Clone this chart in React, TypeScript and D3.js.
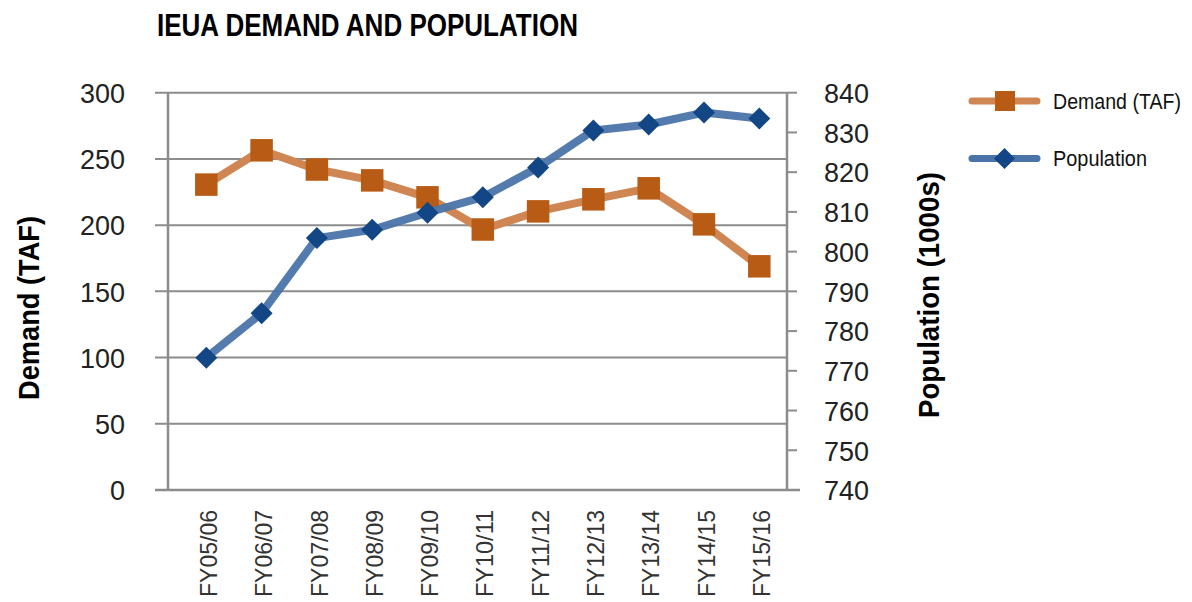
import { useEffect, useRef } from 'react';
import * as d3 from 'd3';

const years = ['FY05/06', 'FY06/07', 'FY07/08', 'FY08/09', 'FY09/10', 'FY10/11', 'FY11/12', 'FY12/13', 'FY13/14', 'FY14/15', 'FY15/16'];
const demand = [230.6, 256.5, 242, 233.8, 221, 196.7, 210.4, 219.5, 227.8, 200.6, 168.9];
const population = [773.3, 784.5, 803.4, 805.5, 809.8, 813.7, 821.2, 830.5, 832.0, 835.0, 833.5];
const leftTicks = [0, 50, 100, 150, 200, 250, 300];
const rightTicks = [740, 750, 760, 770, 780, 790, 800, 810, 820, 830, 840];

const W = 1192;
const H = 602;

export default function App() {
  const svgRef = useRef<SVGSVGElement>(null);

  useEffect(() => {
    if (!svgRef.current) return;
    const svg = d3.select(svgRef.current);
    svg.selectAll('*').remove();

    const font = '"Liberation Sans", Arial, sans-serif';
    const gridColor = '#8c8c8c';
    const textColor = '#222222';

    const plotLeft = 168;
    const plotRight = 787;
    const top = 92.7;
    const bottom = 490;

    const x = d3.scalePoint<string>().domain(years).range([206.3, 759.3]);
    const yL = d3.scaleLinear().domain([0, 300]).range([bottom, top]);
    const yR = d3.scaleLinear().domain([740, 840]).range([bottom, top]);

    // title (source font is a condensed bold face)
    svg.append('text')
      .attr('x', 157)
      .attr('y', 36)
      .attr('font-family', font)
      .attr('font-weight', 'bold')
      .attr('font-size', 31)
      .attr('textLength', 421)
      .attr('lengthAdjust', 'spacingAndGlyphs')
      .attr('fill', '#000')
      .text('IEUA DEMAND AND POPULATION');

    // horizontal gridlines + left ticks
    leftTicks.forEach(t => {
      svg.append('line')
        .attr('x1', 155)
        .attr('x2', t === 0 ? 800 : plotRight)
        .attr('y1', yL(t))
        .attr('y2', yL(t))
        .attr('stroke', gridColor)
        .attr('stroke-width', t === 0 ? 2.5 : 2);
      svg.append('text')
        .attr('x', 125)
        .attr('y', yL(t))
        .attr('dy', '0.36em')
        .attr('text-anchor', 'end')
        .attr('font-family', font)
        .attr('font-size', 28.5)
        .attr('textLength', String(t).length * 15)
        .attr('lengthAdjust', 'spacingAndGlyphs')
        .attr('fill', textColor)
        .text(t);
    });

    // axes lines
    svg.append('line')
      .attr('x1', plotLeft).attr('x2', plotLeft)
      .attr('y1', top).attr('y2', bottom)
      .attr('stroke', gridColor).attr('stroke-width', 2.5);
    svg.append('line')
      .attr('x1', plotRight).attr('x2', plotRight)
      .attr('y1', top).attr('y2', bottom)
      .attr('stroke', gridColor).attr('stroke-width', 2.5);

    // right ticks
    rightTicks.forEach(t => {
      svg.append('line')
        .attr('x1', plotRight)
        .attr('x2', 797)
        .attr('y1', yR(t))
        .attr('y2', yR(t))
        .attr('stroke', gridColor)
        .attr('stroke-width', 2);
      svg.append('text')
        .attr('x', 824)
        .attr('y', yR(t))
        .attr('dy', '0.36em')
        .attr('font-family', font)
        .attr('font-size', 28.5)
        .attr('textLength', 45)
        .attr('lengthAdjust', 'spacingAndGlyphs')
        .attr('fill', textColor)
        .text(t);
    });

    // x labels
    years.forEach(yr => {
      svg.append('text')
        .attr('transform', `translate(${(x(yr) ?? 0) + 2}, 510) rotate(-90)`)
        .attr('text-anchor', 'end')
        .attr('dy', '0.36em')
        .attr('font-family', font)
        .attr('font-size', 24)
        .attr('textLength', 87)
        .attr('lengthAdjust', 'spacingAndGlyphs')
        .attr('fill', '#333')
        .text(yr);
    });

    // axis titles
    svg.append('text')
      .attr('transform', 'translate(29, 308) rotate(-90)')
      .attr('text-anchor', 'middle')
      .attr('dy', '0.36em')
      .attr('font-family', font)
      .attr('font-weight', 'bold')
      .attr('font-size', 29)
      .attr('textLength', 184)
      .attr('lengthAdjust', 'spacingAndGlyphs')
      .attr('fill', '#000')
      .text('Demand (TAF)');
    svg.append('text')
      .attr('transform', 'translate(929, 295) rotate(-90)')
      .attr('text-anchor', 'middle')
      .attr('dy', '0.36em')
      .attr('font-family', font)
      .attr('font-weight', 'bold')
      .attr('font-size', 29)
      .attr('textLength', 246)
      .attr('lengthAdjust', 'spacingAndGlyphs')
      .attr('fill', '#000')
      .text('Population (1000s)');

    const demandLine = '#cf8652';
    const demandMark = '#b85b15';
    const popLine = '#4a74a9';
    const popMark = '#134684';

    const lineD = d3.line<number>()
      .x((_, i) => x(years[i]) ?? 0)
      .y(d => yL(d));
    const lineP = d3.line<number>()
      .x((_, i) => x(years[i]) ?? 0)
      .y(d => yR(d));

    svg.append('path')
      .attr('d', lineD(demand) || '')
      .attr('fill', 'none')
      .attr('stroke', demandLine)
      .attr('stroke-width', 8)
      .attr('stroke-linejoin', 'round');
    const sq = 22.5;
    demand.forEach((d, i) => {
      svg.append('rect')
        .attr('x', (x(years[i]) ?? 0) - sq / 2)
        .attr('y', yL(d) - sq / 2)
        .attr('width', sq)
        .attr('height', sq)
        .attr('fill', demandMark);
    });

    svg.append('path')
      .attr('d', lineP(population) || '')
      .attr('fill', 'none')
      .attr('stroke', popLine)
      .attr('stroke-width', 8)
      .attr('stroke-opacity', 0.95)
      .attr('stroke-linejoin', 'round');
    const dm = 11;
    const diamond = (cx: number, cy: number) =>
      `M${cx},${cy - dm}L${cx + dm},${cy}L${cx},${cy + dm}L${cx - dm},${cy}Z`;
    population.forEach((p, i) => {
      svg.append('path')
        .attr('d', diamond(x(years[i]) ?? 0, yR(p)))
        .attr('fill', popMark);
    });

    // legend
    const legend = [
      { label: 'Demand (TAF)', line: demandLine, mark: demandMark, y: 101, shape: 'square' },
      { label: 'Population', line: popLine, mark: popMark, y: 158.5, shape: 'diamond' }
    ];
    legend.forEach(l => {
      svg.append('line')
        .attr('x1', 972).attr('x2', 1037)
        .attr('y1', l.y).attr('y2', l.y)
        .attr('stroke', l.line)
        .attr('stroke-width', 7)
        .attr('stroke-linecap', 'round');
      if (l.shape === 'square') {
        svg.append('rect')
          .attr('x', 995).attr('y', l.y - 10)
          .attr('width', 20).attr('height', 20)
          .attr('fill', l.mark);
      } else {
        const s = 10.5;
        svg.append('path')
          .attr('d', `M1004.5,${l.y - s}L${1004.5 + s},${l.y}L1004.5,${l.y + s}L${1004.5 - s},${l.y}Z`)
          .attr('fill', l.mark);
      }
      svg.append('text')
        .attr('x', 1053)
        .attr('y', l.y)
        .attr('dy', '0.36em')
        .attr('font-family', font)
        .attr('font-size', 21.5)
        .attr('textLength', l.shape === 'square' ? 128 : 94)
        .attr('lengthAdjust', 'spacingAndGlyphs')
        .attr('fill', '#111')
        .text(l.label);
    });
  }, []);

  return (
    <div style={{ position: 'absolute', left: 0, top: 0, width: W, height: H, background: '#fff' }}>
      <svg ref={svgRef} width={W} height={H} style={{ display: 'block' }} />
    </div>
  );
}
